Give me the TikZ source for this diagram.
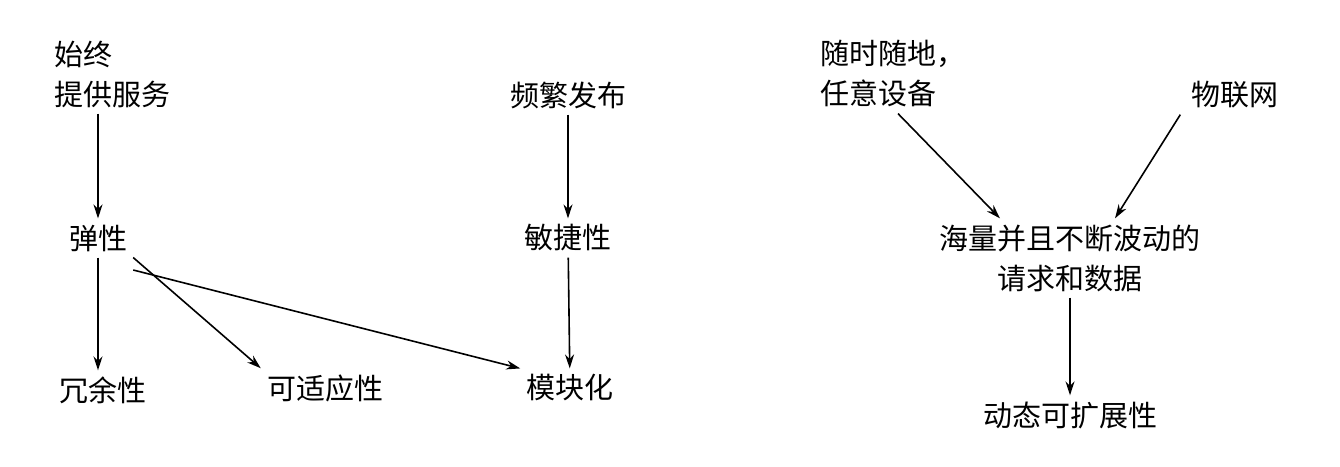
\documentclass[tikz,border=0pt]{standalone}
\usepackage{fontspec}
\setmainfont{Noto Sans CJK SC}
\usetikzlibrary{arrows.meta}
\begin{document}
\begin{tikzpicture}[x=1pt,y=-1pt,
    word/.style={font=\fontsize{29}{40}\selectfont, inner sep=6pt, align=left},
    link/.style={-{Stealth[length=14pt,width=9pt]}, line width=1.6pt}]
    \useasboundingbox (0,0) rectangle (1340,466);
    % left part
    \node [word] (ser) at (112,74) {始终\\提供服务};
    \node [word] (ela) at (98,238) {弹性};
    \node [word] (red) at (103,390) {冗余性};
    \node [word] (ada) at (325,388) {可适应性};
    \node [word] (mod) at (570,388) {模块化};
    \node [word] (rel) at (568,95) {频繁发布};
    \node [word] (agi) at (568,238) {敏捷性};
    % right part
    \node [word] (any) at (893,74) {随时随地，\\任意设备};
    \node [word] (iot) at (1235,95) {物联网};
    \node [word, align=center] (dat) at (1070,258) {海量并且不断波动的\\请求和数据};
    \node [word] (dyn) at (1070,415) {动态可扩展性};

    \draw [link] (ser.south -| ela) -- (ela);
    \draw [link] (ela) -- (red.north -| ela);
    \draw [link] (ela.south east) -- (ada.north west);
    \draw [link] (ela.east |- 0,270) -- (mod.north west);
    \draw [link] (rel) -- (agi);
    \draw [link] (agi) -- (mod);
    \draw [link] (any.south) ++(5,0) -- (dat.north -| 1000,0);
    \draw [link] (iot.south west) ++(-5,0) -- (dat.north -| 1115,0);
    \draw [link] (dat) -- (dyn);
\end{tikzpicture}
\end{document}
